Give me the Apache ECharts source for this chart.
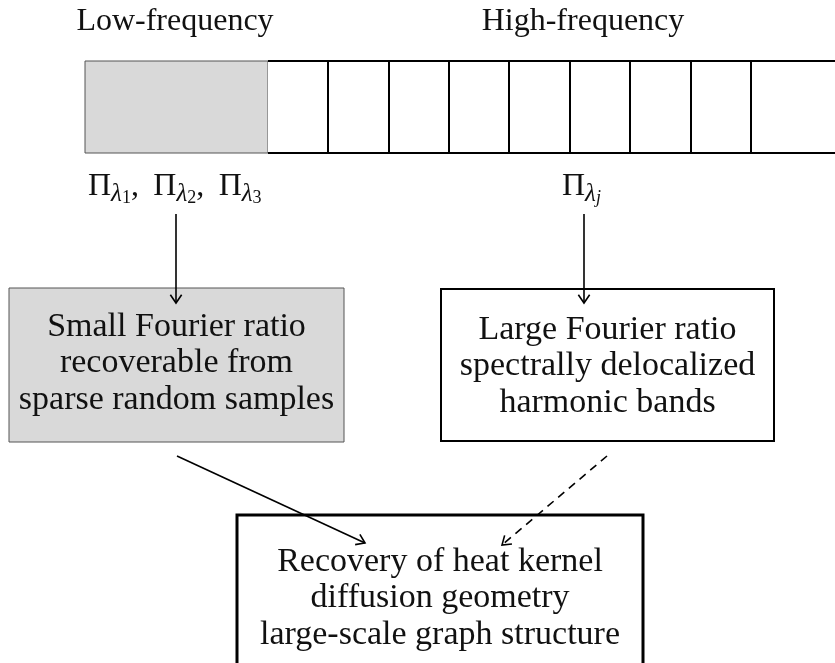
<!DOCTYPE html>
<html>
<head>
<meta charset="utf-8">
<script src="https://cdn.jsdelivr.net/npm/echarts@6/dist/echarts.min.js"></script>
<style>
html,body{margin:0;padding:0;background:#fff;}
#main{width:835px;height:663px;}
</style>
</head>
<body>
<div id="main"></div>
<script>
// texts
let headers = ['Low-frequency', 'High-frequency'];
let lowLabel = '{p|Π}{l|λ}{d|1}{p|, \u2009Π}{l|λ}{d|2}{p|, \u2009Π}{l|λ}{d|3}';
let highLabel = '{p|Π}{l|λ}{j|j}';
let boxLines = [
    ['Small Fourier ratio', 'recoverable from', 'sparse random samples'],
    ['Large Fourier ratio', 'spectrally delocalized', 'harmonic bands'],
    ['Recovery of heat kernel', 'diffusion geometry', 'large-scale graph structure']
];
let shadedCells = 1;

// layout (diagram units = px, y down)
let cellEdges = [85, 268, 328, 389, 449, 509, 570, 630, 691, 751, 900];
let strip = {top: 61, bottom: 153};
let headerPos = [[175, 22], [583, 22]];
let labelPos = [[88, 189], [562, 189]];
let boxRects = [[9, 288, 344, 442], [441, 289, 774, 441], [237, 515, 643, 720]];
let boxText = [327, 330, 562];
let lineGap = 36.5;
let arrows = [
    [176, 214, 176, 303, 0],
    [584, 214, 584, 303, 0],
    [177, 456, 365, 543, 0],
    [607, 456, 502, 545, 1]
];

const FONT = '"Liberation Serif", "DejaVu Serif", serif';
const FS = 32;
const BFS = 34;
let boxStyles = [
    {fill: '#d9d9d9', stroke: '#555', lw: 1},
    {fill: '#fff', stroke: '#000', lw: 2},
    {fill: '#fff', stroke: '#000', lw: 3}
];

let myChart = echarts.init(document.getElementById('main'));

function cellItem(params, api){
    let i = params.dataIndex;
    let a = api.coord([api.value(0), strip.top]);
    let b = api.coord([api.value(1), strip.bottom]);
    if (i < shadedCells) {
        return {type: 'rect', shape: {x: a[0], y: a[1], width: b[0] - a[0], height: b[1] - a[1]},
            style: {fill: '#d9d9d9', stroke: '#555', lineWidth: 1}};
    }
    let ls = {stroke: '#000', lineWidth: 2};
    let children = [
        {type: 'rect', shape: {x: a[0], y: a[1], width: b[0] - a[0], height: b[1] - a[1]}, style: {fill: '#fff'}},
        {type: 'line', shape: {x1: a[0], y1: a[1], x2: b[0], y2: a[1]}, style: ls},
        {type: 'line', shape: {x1: a[0], y1: b[1], x2: b[0], y2: b[1]}, style: ls}
    ];
    if (i > shadedCells) {
        children.push({type: 'line', shape: {x1: a[0], y1: a[1], x2: a[0], y2: b[1]}, style: ls});
    }
    return {type: 'group', children: children};
}

function boxItem(params, api){
    let i = params.dataIndex;
    let a = api.coord([api.value(0), api.value(1)]);
    let b = api.coord([api.value(2), api.value(3)]);
    let st = boxStyles[i];
    let children = [{type: 'rect', shape: {x: a[0], y: a[1], width: b[0] - a[0], height: b[1] - a[1]},
        style: {fill: st.fill, stroke: st.stroke, lineWidth: st.lw}}];
    let cx = (api.value(0) + api.value(2)) / 2;
    boxLines[i].forEach((t, k)=>{
        let p = api.coord([cx, boxText[i] + k * lineGap]);
        children.push({type: 'text', x: p[0], y: p[1], style: {
            text: t, fill: '#111', fontFamily: FONT, fontSize: BFS, align: 'center', verticalAlign: 'middle'
        }});
    });
    return {type: 'group', children: children};
}

function arrowItem(params, api){
    let p0 = api.coord([api.value(0), api.value(1)]);
    let p1 = api.coord([api.value(2), api.value(3)]);
    let dashed = api.value(4) === 1;
    let ang = Math.atan2(p1[1] - p0[1], p1[0] - p0[0]);
    let L = 10, th = 0.6;
    let h1 = [p1[0] - L * Math.cos(ang - th), p1[1] - L * Math.sin(ang - th)];
    let h2 = [p1[0] - L * Math.cos(ang + th), p1[1] - L * Math.sin(ang + th)];
    return {type: 'group', children: [
        {type: 'line', shape: {x1: p0[0], y1: p0[1], x2: p1[0], y2: p1[1]},
            style: {stroke: '#000', lineWidth: 1.6, lineDash: dashed ? [8, 6] : null}},
        {type: 'polyline', shape: {points: [h1, p1, h2]},
            style: {stroke: '#000', lineWidth: 1.6, fill: null}}
    ]};
}

function textItem(params, api){
    let i = params.dataIndex;
    let p = api.coord([api.value(0), api.value(1)]);
    return {type: 'text', x: p[0], y: p[1], style: {
        text: headers[i], fill: '#111', fontFamily: FONT, fontSize: FS, align: 'center', verticalAlign: 'middle'
    }};
}

// subscripts: Π hangs from the top of a 36px line box, λ and digits sit on its bottom
let mathRich = {
    p: {fontFamily: FONT, fontSize: FS, lineHeight: 32, verticalAlign: 'top', fill: '#111'},
    l: {fontFamily: FONT, fontSize: 25, fontStyle: 'italic', lineHeight: 36, verticalAlign: 'bottom', fill: '#111'},
    d: {fontFamily: FONT, fontSize: 18, lineHeight: 20, verticalAlign: 'bottom', fill: '#111'},
    j: {fontFamily: FONT, fontSize: 18, fontStyle: 'italic', lineHeight: 20, verticalAlign: 'bottom', fill: '#111'}
};

function mathItem(params, api){
    let i = params.dataIndex;
    let p = api.coord([api.value(0), api.value(1)]);
    return {type: 'text', x: p[0], y: p[1], style: {
        text: i === 0 ? lowLabel : highLabel, rich: mathRich, align: 'left', verticalAlign: 'middle'
    }};
}

let option = {
    animation: false,
    backgroundColor: '#fff',
    grid: {left: 0, right: 0, top: 0, bottom: 0},
    xAxis: {type: 'value', min: 0, max: 835, show: false},
    yAxis: {type: 'value', min: 0, max: 663, inverse: true, show: false},
    series: [
        {type: 'custom', renderItem: cellItem, silent: true,
            data: cellEdges.slice(0, -1).map((x, i)=>[x, cellEdges[i + 1]])},
        {type: 'custom', renderItem: boxItem, silent: true, data: boxRects},
        {type: 'custom', renderItem: arrowItem, silent: true, data: arrows},
        {type: 'custom', renderItem: textItem, silent: true, data: headerPos},
        {type: 'custom', renderItem: mathItem, silent: true, data: labelPos}
    ]
};
myChart.setOption(option);
</script>
</body>
</html>
